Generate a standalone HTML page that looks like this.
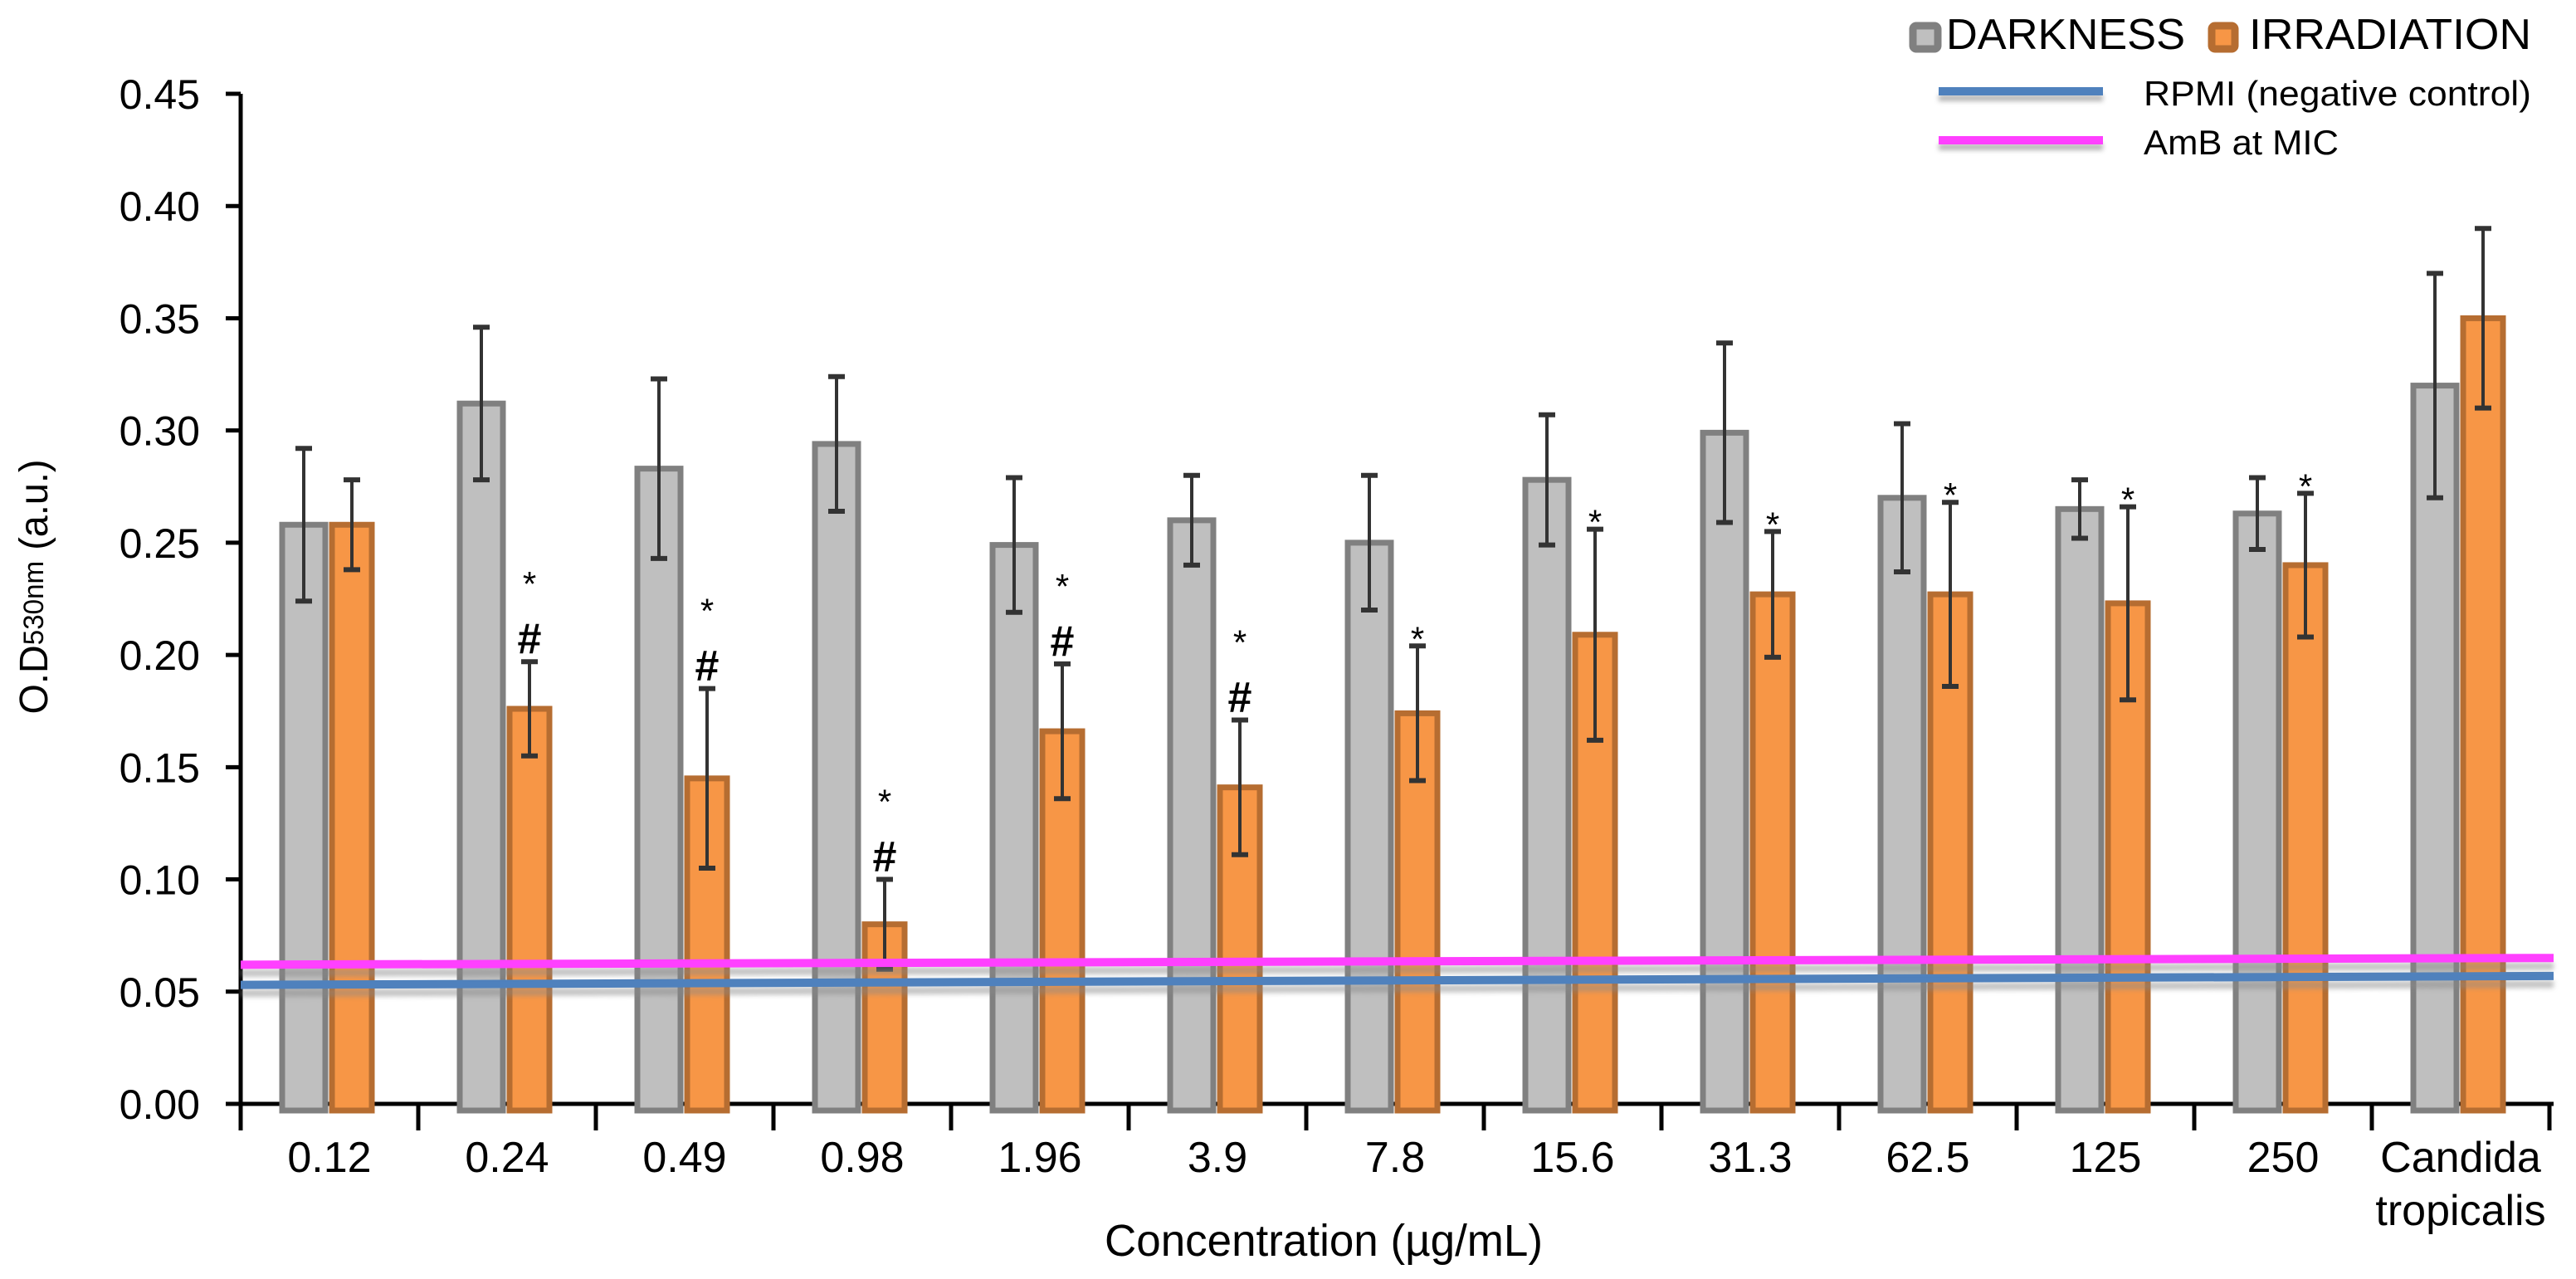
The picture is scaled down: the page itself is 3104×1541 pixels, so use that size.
<!DOCTYPE html>
<html><head><meta charset="utf-8"><style>
html,body{margin:0;padding:0;background:#fff;}
svg{display:block;}
text{font-family:"Liberation Sans Narrow","Liberation Sans",sans-serif;fill:#000;}
</style></head><body>
<svg id="chart" width="3104" height="1541" viewBox="0 0 3104 1541" xmlns="http://www.w3.org/2000/svg">
<defs>
<filter id="sh" x="-5%" y="-200%" width="110%" height="500%"><feGaussianBlur stdDeviation="3"/></filter>
</defs>
<g id="axes"></g>
<g id="lines"></g>
<g id="bars"></g>
<g id="legend">
  <rect x="2305" y="31" width="30" height="28" rx="4" fill="#bfbfbf" stroke="#808080" stroke-width="9"/>
  <text x="2345" y="59" font-size="52" textLength="288" lengthAdjust="spacingAndGlyphs">DARKNESS</text>
  <rect x="2665" y="31" width="28" height="28" rx="4" fill="#f79646" stroke="#b66d31" stroke-width="9"/>
  <text x="2710" y="59" font-size="52" textLength="340" lengthAdjust="spacingAndGlyphs">IRRADIATION</text>
  <rect x="2336" y="114" width="198" height="8" fill="#999" filter="url(#sh)" opacity="0.7"/>
  <rect x="2336" y="105" width="198" height="10" fill="#4f81bd"/>
  <text x="2583" y="127" font-size="42" textLength="467" lengthAdjust="spacingAndGlyphs">RPMI (negative control)</text>
  <rect x="2336" y="173" width="198" height="8" fill="#999" filter="url(#sh)" opacity="0.7"/>
  <rect x="2336" y="164" width="198" height="10" fill="#ff40ff"/>
  <text x="2583" y="186" font-size="42" textLength="235" lengthAdjust="spacingAndGlyphs">AmB at MIC</text>
</g>
<text transform="translate(57,707) rotate(-90)" font-size="48" text-anchor="middle" textLength="307" lengthAdjust="spacingAndGlyphs">O.D<tspan font-size="34" dy="-5">530nm</tspan><tspan dy="5">  (a.u.)</tspan></text>
<text x="1595" y="1513" font-size="54" text-anchor="middle" textLength="528" lengthAdjust="spacingAndGlyphs">Concentration (µg/mL)</text>
</svg>
<script>
const categories = ["0.12","0.24","0.49","0.98","1.96","3.9","7.8","15.6","31.3","62.5","125","250","Candida|tropicalis"];
const darkValues = [0.258,0.312,0.283,0.294,0.249,0.260,0.250,0.278,0.299,0.270,0.265,0.263,0.320];
const darkErr = [0.034,0.034,0.040,0.030,0.030,0.020,0.030,0.029,0.040,0.033,0.013,0.016,0.050];
const irrValues = [0.258,0.176,0.145,0.080,0.166,0.141,0.174,0.209,0.227,0.227,0.223,0.240,0.350];
const irrErr = [0.020,0.021,0.040,0.020,0.030,0.030,0.030,0.047,0.028,0.041,0.043,0.032,0.040];
const starMarks = [0,1,1,1,1,1,1,1,1,1,1,1,0];
const hashMarks = [0,1,1,1,1,1,0,0,0,0,0,0,0];
const yTicks = [0,0.05,0.10,0.15,0.20,0.25,0.30,0.35,0.40,0.45];
const rpmiLine = [0.053,0.057];
const ambLine = [0.062,0.065];

const NS="http://www.w3.org/2000/svg";
const X0=290, CW=214, Y0=1330, YT=113, YMAX=0.45, XEND=3077;
const y = v => Y0 - (v/YMAX)*(Y0-YT);
const xc = i => X0 + i*CW;
function mk(tag, attrs, parent){const e=document.createElementNS(NS,tag);for(const k in attrs)e.setAttribute(k,attrs[k]);parent.appendChild(e);return e;}
const axes=document.getElementById('axes'), bars=document.getElementById('bars'), lines=document.getElementById('lines');

let el=mk('line',{x1:X0,y1:YT,x2:X0,y2:Y0,stroke:'#000','stroke-width':5},axes);


el=mk('line',{x1:X0-3,y1:Y0,x2:XEND,y2:Y0,stroke:'#000','stroke-width':5},axes);


yTicks.forEach(t=>{
  mk('line',{x1:X0-18,y1:y(t),x2:X0,y2:y(t),stroke:'#000','stroke-width':5},axes);
  const tx=mk('text',{x:241,y:y(t)+18,'font-size':50,'text-anchor':'end'},axes);
  tx.textContent=t.toFixed(2);
  
  
});
for(let i=0;i<=categories.length;i++){
  mk('line',{x1:xc(i),y1:Y0,x2:xc(i),y2:Y0+32,stroke:'#000','stroke-width':5},axes);
}
categories.forEach((c,i)=>{
  const parts=c.split('|');
  parts.forEach((p,j)=>{
    const tx=mk('text',{x:xc(i)+CW/2,y:1412+j*64,'font-size':52,'text-anchor':'middle'},axes);
    tx.textContent=p;
    
    
  });
});

function errBar(cx,v,e){
  const g=mk('g',{},bars);
  
  
  mk('line',{x1:cx,y1:y(v+e),x2:cx,y2:y(v-e),stroke:'#333','stroke-width':4},g);
  mk('line',{x1:cx-10,y1:y(v+e),x2:cx+10,y2:y(v+e),stroke:'#333','stroke-width':6},g);
  mk('line',{x1:cx-10,y1:y(v-e),x2:cx+10,y2:y(v-e),stroke:'#333','stroke-width':6},g);
}
categories.forEach((c,i)=>{
  const gx=xc(i)+50, ox=xc(i)+110;
  let r=mk('rect',{x:gx,y:y(darkValues[i]),width:52,height:Y0-y(darkValues[i])+8,fill:'#bfbfbf',stroke:'#808080','stroke-width':7},bars);
  
  
  r=mk('rect',{x:ox,y:y(irrValues[i]),width:48,height:Y0-y(irrValues[i])+8,fill:'#f79646',stroke:'#b66d31','stroke-width':7},bars);
  
  
});
categories.forEach((c,i)=>{
  const gx=xc(i)+76, ox=xc(i)+134;
  errBar(gx,darkValues[i],darkErr[i]);
  errBar(ox,irrValues[i],irrErr[i]);
  const top=y(irrValues[i]+irrErr[i]);
  if(hashMarks[i]){
    const h=mk('text',{x:ox,y:top-10,'font-size':52,'font-weight':'bold','text-anchor':'middle'},bars);
    h.textContent='#';
    
    
  }
  if(starMarks[i]){
    const s=mk('text',{x:ox,y:hashMarks[i]?top-79:top+6,'font-size':42,'text-anchor':'middle'},bars);
    s.textContent='*';
    
    
  }
});

function refLine(vals,color,name){
  const g=mk('g',{},document.getElementById('chart'));
  
  
  mk('line',{x1:X0,y1:y(vals[0])+10,x2:XEND,y2:y(vals[1])+10,stroke:'#888','stroke-width':9,opacity:0.5,filter:'url(#sh)'},g);
  mk('line',{x1:X0,y1:y(vals[0]),x2:XEND,y2:y(vals[1]),stroke:color,'stroke-width':10},g);
}
refLine(rpmiLine,'#4f81bd','rpmi-negative-control-line');
refLine(ambLine,'#ff40ff','amb-at-mic-line');
</script>
</body></html>
